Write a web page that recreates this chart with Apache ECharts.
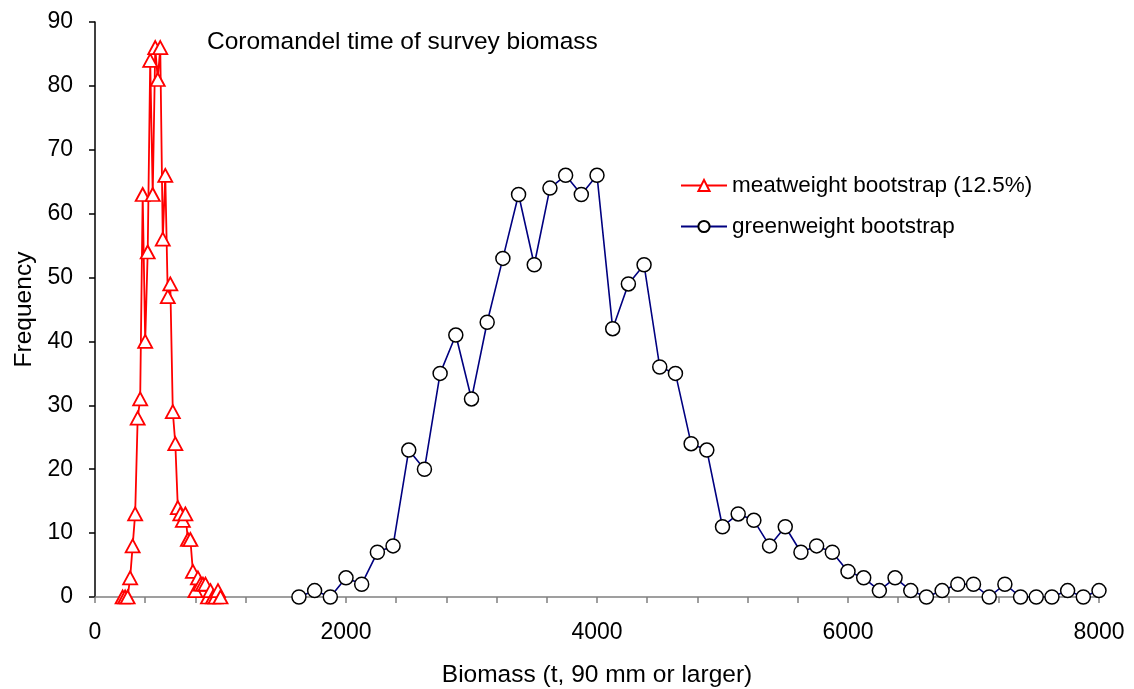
<!DOCTYPE html>
<html>
<head>
<meta charset="utf-8">
<script src="https://cdn.jsdelivr.net/npm/echarts@6/dist/echarts.min.js"></script>
<style>
html,body{margin:0;padding:0;background:#fff;}
#chart{width:1134px;height:689px;}
</style>
</head>
<body>
<div id="chart"></div>
<script>
// ---- data ----
const meatX = [220,240,260,280,300,320,340,360,380,400,420,440,460,480,500,520,540,560,580,600,620,640,660,680,700,720,740,760,780,800,820,840,860,880,900,920,940,960,980,1000];
const meatY = [0,0,0,3,8,13,28,31,63,40,54,84,63,86,81,86,56,66,47,49,29,24,14,13,12,13,9,9,4,1,3,2,2,2,0,1,0,0,1,0];
const greenX = [1625,1750,1875,2000,2125,2250,2375,2500,2625,2750,2875,3000,3125,3250,3375,3500,3625,3750,3875,4000,4125,4250,4375,4500,4625,4750,4875,5000,5125,5250,5375,5500,5625,5750,5875,6000,6125,6250,6375,6500,6625,6750,6875,7000,7125,7250,7375,7500,7625,7750,7875,8000,8125];
const greenY = [0,1,0,3,2,7,8,23,20,35,41,31,43,53,63,52,64,66,63,66,42,49,52,36,35,24,23,11,13,12,8,11,7,8,7,4,3,1,3,1,0,1,2,2,0,2,0,0,0,1,0,1,0];
const xTickLabels = [0,2000,4000,6000,8000];
const yTickLabels = [0,10,20,30,40,50,60,70,80,90];
const seriesNames = ['meatweight bootstrap (12.5%)','greenweight bootstrap'];
const chartNote = 'Coromandel time of survey biomass';
const xTitle = 'Biomass (t, 90 mm or larger)';
const yTitle = 'Frequency';

const FONT = '"Liberation Sans", Arial, sans-serif';
const chart = echarts.init(document.getElementById('chart'));
chart.setOption({
  animation: false,
  backgroundColor: '#fff',
  textStyle: {fontFamily: FONT, color: '#000'},
  grid: {left: 95, top: 22, width: 1004, height: 575, containLabel: false, outerBoundsMode: 'none'},
  legend: {
    orient: 'vertical', left: 675, top: 169,
    itemWidth: 46, itemHeight: 14, itemGap: 18,
    textStyle: {fontFamily: FONT, fontSize: 22.5, color: '#000', lineHeight: 22},
    data: seriesNames
  },
  graphic: [{
    type: 'text', left: 207, top: 30,
    style: {text: chartNote, font: '24.5px "Liberation Sans", Arial, sans-serif', fill: '#000'}
  }],
  xAxis: {
    type: 'value', min: 0, max: 8000, interval: 400,
    name: xTitle, nameLocation: 'middle', nameGap: 66,
    nameTextStyle: {fontFamily: FONT, fontSize: 24.5, color: '#000'},
    axisLine: {show: true, onZero: false, lineStyle: {color: '#808080', width: 1.5}},
    axisTick: {show: true, inside: false, length: 6, lineStyle: {color: '#808080', width: 1.5}},
    axisLabel: {
      margin: 24, fontFamily: FONT, fontSize: 23, color: '#000',
      formatter: v => xTickLabels.includes(v) ? String(v) : ''
    },
    splitLine: {show: false}
  },
  yAxis: {
    type: 'value', min: 0, max: 90, interval: 10,
    name: yTitle, nameLocation: 'middle', nameGap: 58, nameRotate: 90,
    nameTextStyle: {fontFamily: FONT, fontSize: 24.5, color: '#000'},
    axisLine: {show: true, lineStyle: {color: '#000', width: 1.5}},
    axisTick: {show: true, inside: false, length: 6, lineStyle: {color: '#000', width: 1.5}},
    axisLabel: {
      margin: 22, fontFamily: FONT, fontSize: 23, color: '#000',
      formatter: v => yTickLabels.includes(v) ? String(v) : ''
    },
    splitLine: {show: false}
  },
  series: [
    {
      name: seriesNames[0], type: 'line', clip: true,
      data: meatX.map((x, i) => [x, meatY[i]]),
      symbol: 'triangle', symbolSize: [14, 13], showAllSymbol: true,
      lineStyle: {color: '#ff0000', width: 1.8},
      itemStyle: {color: '#ffffff', borderColor: '#ff0000', borderWidth: 1.8},
      emphasis: {disabled: true}, z: 3
    },
    {
      name: seriesNames[1], type: 'line', clip: true,
      data: greenX.map((x, i) => [x, greenY[i]]),
      symbol: 'circle', symbolSize: 14, showAllSymbol: true,
      lineStyle: {color: '#000080', width: 1.6},
      itemStyle: {color: '#ffffff', borderColor: '#000000', borderWidth: 1.5},
      emphasis: {disabled: true}, z: 2
    }
  ]
});
</script>
</body>
</html>
